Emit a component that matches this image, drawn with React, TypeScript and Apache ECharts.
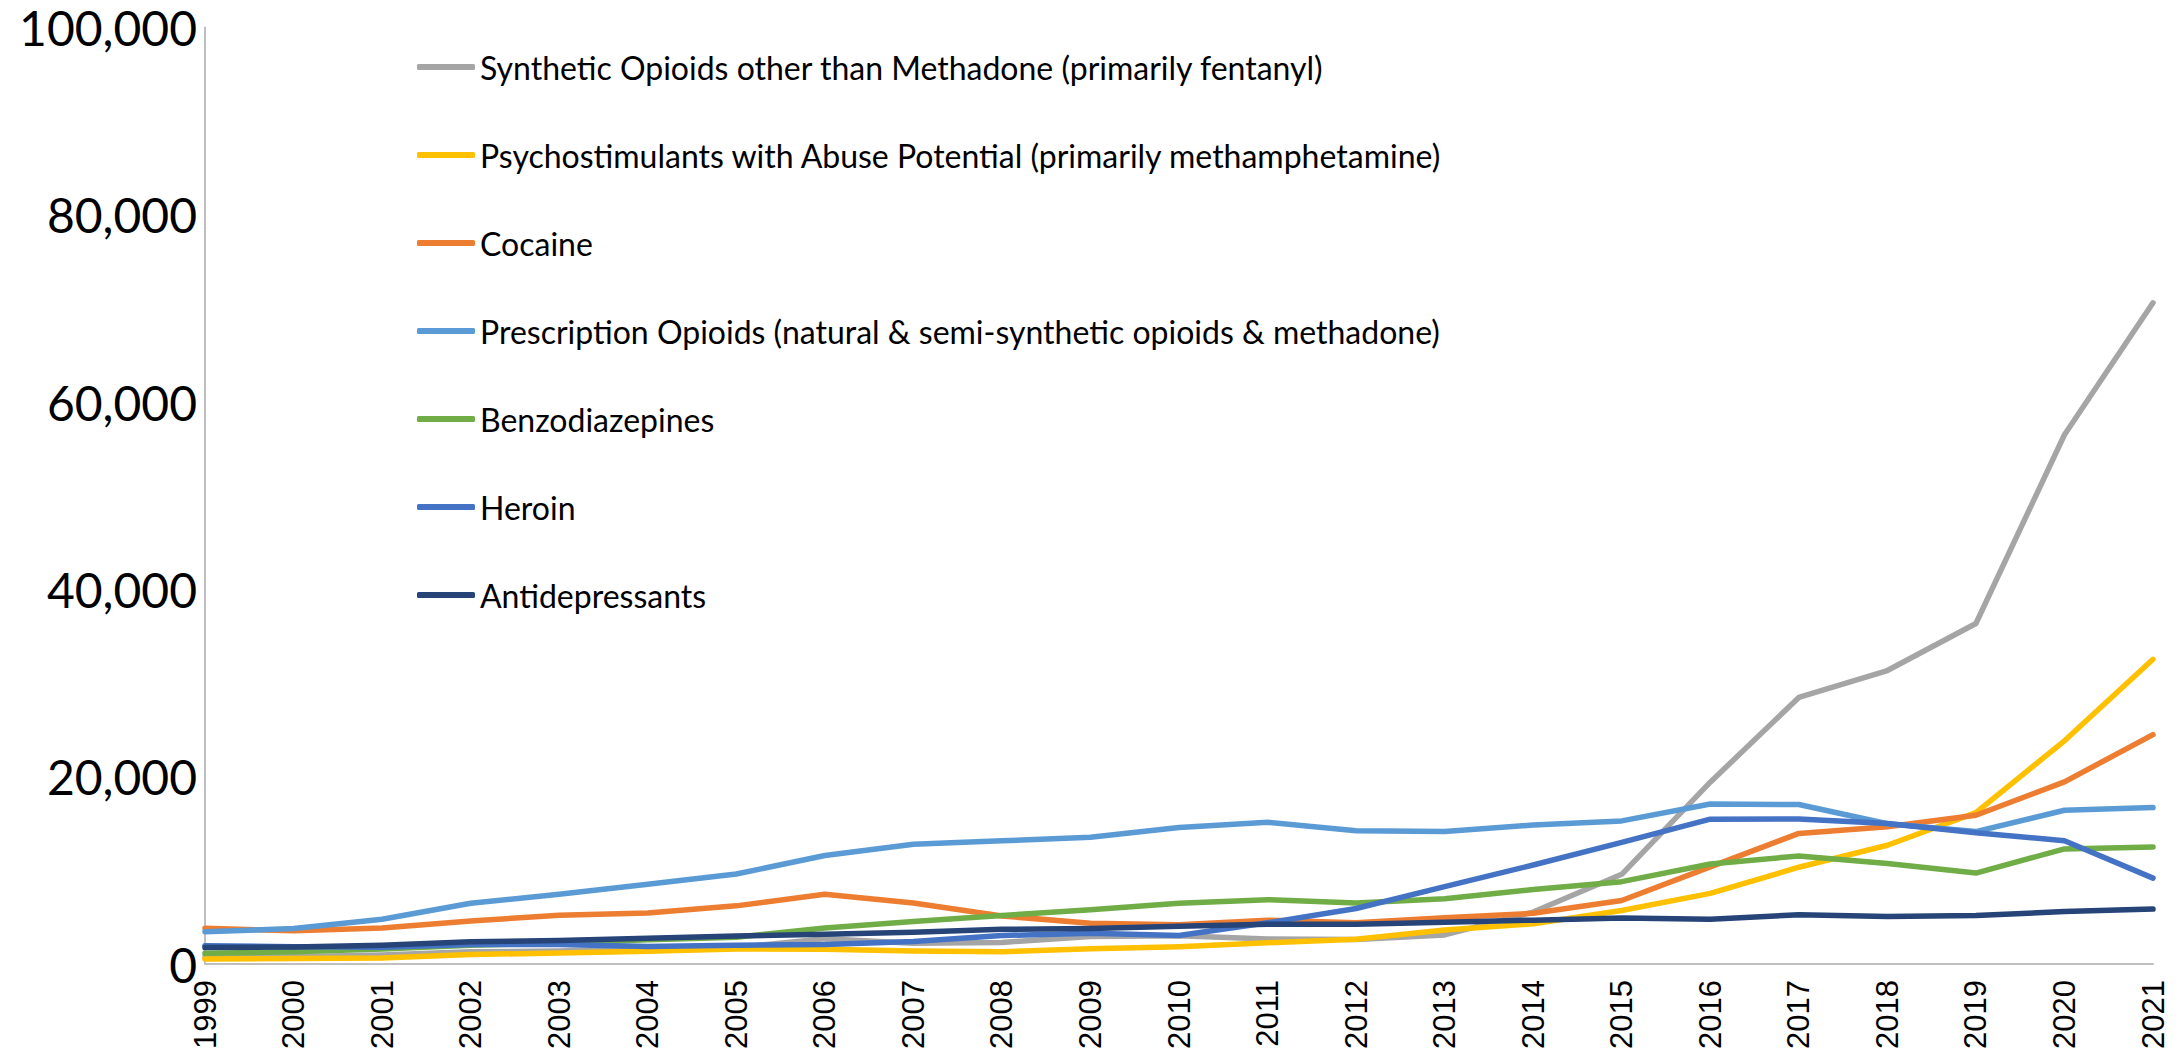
import React, { useEffect, useRef } from "react";
import * as echarts from "echarts";

const years = ["1999","2000","2001","2002","2003","2004","2005","2006","2007","2008","2009","2010","2011","2012","2013","2014","2015","2016","2017","2018","2019","2020","2021"];

const seriesNames = [
  "Synthetic Opioids other than Methadone (primarily fentanyl)",
  "Psychostimulants with Abuse Potential (primarily methamphetamine)",
  "Cocaine",
  "Prescription Opioids (natural & semi-synthetic opioids & methadone)",
  "Benzodiazepines",
  "Heroin",
  "Antidepressants",
];

const syntheticOpioids = [730, 782, 957, 1295, 1400, 1664, 1742, 2707, 2213, 2306, 2946, 3007, 2666, 2628, 3105, 5544, 9580, 19413, 28466, 31335, 36359, 56516, 70601];
const psychostimulants = [547, 578, 637, 1002, 1185, 1349, 1600, 1580, 1378, 1302, 1632, 1854, 2266, 2635, 3627, 4298, 5716, 7542, 10333, 12676, 16167, 23837, 32537];
const cocaine = [3822, 3544, 3833, 4599, 5199, 5443, 6208, 7448, 6512, 5129, 4350, 4183, 4681, 4404, 4944, 5415, 6784, 10375, 13942, 14666, 15883, 19447, 24486];
const prescriptionOpioids = [3442, 3785, 4770, 6483, 7456, 8517, 9612, 11589, 12796, 13149, 13523, 14583, 15140, 14240, 14145, 14838, 15281, 17087, 17029, 14975, 14139, 16416, 16706];
const benzodiazepines = [1135, 1298, 1594, 2007, 2248, 2585, 2862, 3835, 4547, 5178, 5790, 6497, 6872, 6524, 6973, 7945, 8791, 10684, 11537, 10724, 9711, 12290, 12499];
const heroin = [1960, 1842, 1779, 2089, 2080, 1878, 2009, 2088, 2399, 3041, 3278, 3036, 4397, 5925, 8257, 10574, 12989, 15469, 15482, 14996, 14019, 13165, 9173];
const antidepressants = [1749, 1803, 1997, 2375, 2501, 2747, 2982, 3167, 3394, 3705, 3799, 4024, 4233, 4236, 4451, 4683, 4925, 4775, 5269, 5064, 5176, 5597, 5863];

const seriesData = [syntheticOpioids, psychostimulants, cocaine, prescriptionOpioids, benzodiazepines, heroin, antidepressants];
const colors = ["#A5A5A5", "#FFC000", "#ED7D31", "#5B9BD5", "#70AD47", "#4472C4", "#264478"];

export default function App() {
  const ref = useRef<HTMLDivElement>(null);
  useEffect(() => {
    if (!ref.current) return;
    const chart = echarts.init(ref.current, null, { renderer: "svg" });
    chart.setOption({
      animation: false,
      color: colors,
      grid: { left: 205, right: 29, top: 27.5, bottom: 93, containLabel: false },
      legend: {
        orient: "vertical",
        left: 417,
        top: 49,
        padding: 0,
        itemGap: 52,
        itemWidth: 58,
        itemHeight: 6,
        icon: "roundRect",
        textStyle: { fontFamily: "Lato", fontSize: 32, color: "#000", lineHeight: 36 },
        data: seriesNames,
      },
      xAxis: {
        type: "category",
        data: years,
        boundaryGap: false,
        axisLine: { show: true, lineStyle: { color: "#BFBFBF", width: 2 } },
        axisTick: { show: false },
        axisLabel: {
          rotate: 90,
          interval: 0,
          margin: 16,
          fontFamily: "Liberation Sans",
          fontSize: 31,
          color: "#000",
        },
      },
      yAxis: {
        type: "value",
        min: 0,
        max: 100000,
        interval: 20000,
        splitLine: { show: false },
        axisLine: { show: true, lineStyle: { color: "#BFBFBF", width: 2 } },
        axisTick: { show: false },
        axisLabel: {
          margin: 8,
          fontFamily: "Lato",
          fontSize: 48,
          lineHeight: 48,
          color: "#000",
          formatter: (v: number) => v.toLocaleString("en-US"),
        },
      },
      series: seriesNames.map((name, i) => ({
        name,
        type: "line",
        data: seriesData[i],
        showSymbol: false,
        symbol: "none",
        lineStyle: { width: 5.5, color: colors[i], cap: "round", join: "round" },
        itemStyle: { color: colors[i] },
      })),
    });
    return () => chart.dispose();
  }, []);
  return (
    <div
      ref={ref}
      style={{ position: "fixed", left: 0, top: 0, width: "2182px", height: "1057px", background: "#fff" }}
    />
  );
}
